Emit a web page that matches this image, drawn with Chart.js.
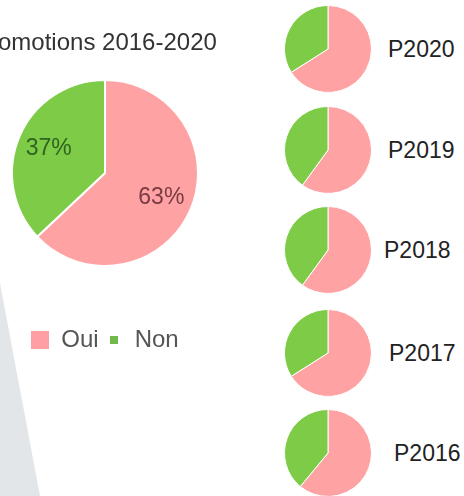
<!DOCTYPE html>
<html>
<head>
<meta charset="utf-8">
<script src="https://cdn.jsdelivr.net/npm/chart.js@4.4.1/dist/chart.umd.min.js"></script>
<style>
  html, body { margin: 0; padding: 0; background: #fff; }
  body { width: 464px; height: 496px; position: relative; overflow: hidden; font-family: 'Liberation Sans', Arial, sans-serif; }
  .shade { position: absolute; left: 0; top: 0; width: 464px; height: 496px; background: #e3e6e9; clip-path: polygon(0 283px, 40px 496px, 0 496px); }
  .box { position: absolute; }
  .year { position: absolute; font-size: 23px; color: #222; line-height: 26px; }
</style>
</head>
<body>
<div class="shade"></div>
<div class="box" style="left:-26px; top:0; width:262px; height:362px;"><canvas id="total"></canvas></div>
<div id="small"></div>

<script>
// promotions 2016-2020, all years together
const answers = ['Oui', 'Non'];
const totalValues = [63, 37];

// one small pie per promotion
const years = ['P2020', 'P2019', 'P2018', 'P2017', 'P2016'];
const ouiValues = [66, 60, 60, 66, 61];
const nonValues = [34, 40, 40, 34, 39];

const pink = '#ffa2a4';
const green = '#7dcb47';

Chart.defaults.font.family = "'Liberation Sans', Arial, sans-serif";
Chart.defaults.animation = false;

// little squares for the legend (pink one is bigger in the source)
function markBox(w, h, color) {
  const c = document.createElement('canvas');
  c.width = w;
  c.height = h;
  const g = c.getContext('2d');
  g.fillStyle = color;
  g.fillRect(0, 0, w, h);
  return c;
}
const legendMarks = [markBox(18, 18, '#ff9fa3'), markBox(8, 8, '#72b84a')];

const sliceLabels = {
  id: 'sliceLabels',
  afterDatasetsDraw(chart, args, opts) {
    const ctx = chart.ctx;
    const meta = chart.getDatasetMeta(0);
    const values = chart.data.datasets[0].data;
    const sum = values.reduce((a, b) => a + b, 0);
    ctx.save();
    ctx.font = opts.font;
    ctx.textAlign = 'center';
    ctx.textBaseline = 'middle';
    meta.data.forEach((arc, i) => {
      const a = (arc.startAngle + arc.endAngle) / 2;
      const r = arc.outerRadius * 0.66;
      ctx.fillStyle = opts.colors[i];
      ctx.fillText(Math.round(values[i] / sum * 100) + '%', arc.x + Math.cos(a) * r, arc.y + Math.sin(a) * r);
    });
    ctx.restore();
  }
};

new Chart(document.getElementById('total'), {
  type: 'pie',
  data: {
    labels: answers,
    datasets: [{
      data: totalValues,
      backgroundColor: [pink, green],
      borderColor: '#ffffff',
      borderWidth: 2,
      radius: 93,
    }],
  },
  options: {
    responsive: true,
    maintainAspectRatio: false,
    layout: { padding: 0 },
    plugins: {
      title: {
        display: true,
        text: 'Promotions 2016-2020',
        align: 'start',
        color: '#333',
        font: { size: 24, weight: 'normal' },
        padding: { top: 28.6, bottom: 0 },
      },
      legend: {
        position: 'bottom',
        title: { display: true, text: '', font: { size: 10 }, padding: { top: 21.4, bottom: 0 } },
        labels: {
          usePointStyle: true,
          boxWidth: 18,
          padding: 6,
          color: '#555',
          font: { size: 24 },
          generateLabels(chart) {
            const items = Chart.overrides.pie.plugins.legend.labels.generateLabels(chart);
            items.forEach((it, i) => { it.pointStyle = legendMarks[i]; });
            return items;
          },
        },
      },
      tooltip: { enabled: false },
      sliceLabels: { font: "23px 'Liberation Sans', Arial, sans-serif", colors: ['#7a3a44', '#2f6420'] },
    },
  },
  plugins: [sliceLabels],
});

const holder = document.getElementById('small');
const centersY = [49, 150, 250, 353, 453];
const labelX = [388, 388, 384, 389, 394];

years.forEach((year, i) => {
  const wrap = document.createElement('div');
  wrap.className = 'box';
  wrap.style.left = '278px';
  wrap.style.top = (centersY[i] - 50) + 'px';
  wrap.style.width = '100px';
  wrap.style.height = '100px';
  const cv = document.createElement('canvas');
  wrap.appendChild(cv);
  holder.appendChild(wrap);

  const txt = document.createElement('div');
  txt.className = 'year';
  txt.style.left = labelX[i] + 'px';
  txt.style.top = (centersY[i] - 13) + 'px';
  txt.textContent = year;
  holder.appendChild(txt);

  new Chart(cv, {
    type: 'pie',
    data: {
      labels: answers,
      datasets: [{
        data: [ouiValues[i], nonValues[i]],
        backgroundColor: [pink, green],
        borderColor: '#ffffff',
        borderWidth: 1,
      }],
    },
    options: {
      responsive: true,
      maintainAspectRatio: false,
      layout: { padding: 6 },
      plugins: { legend: { display: false }, tooltip: { enabled: false } },
    },
  });
});
</script>
</body>
</html>
